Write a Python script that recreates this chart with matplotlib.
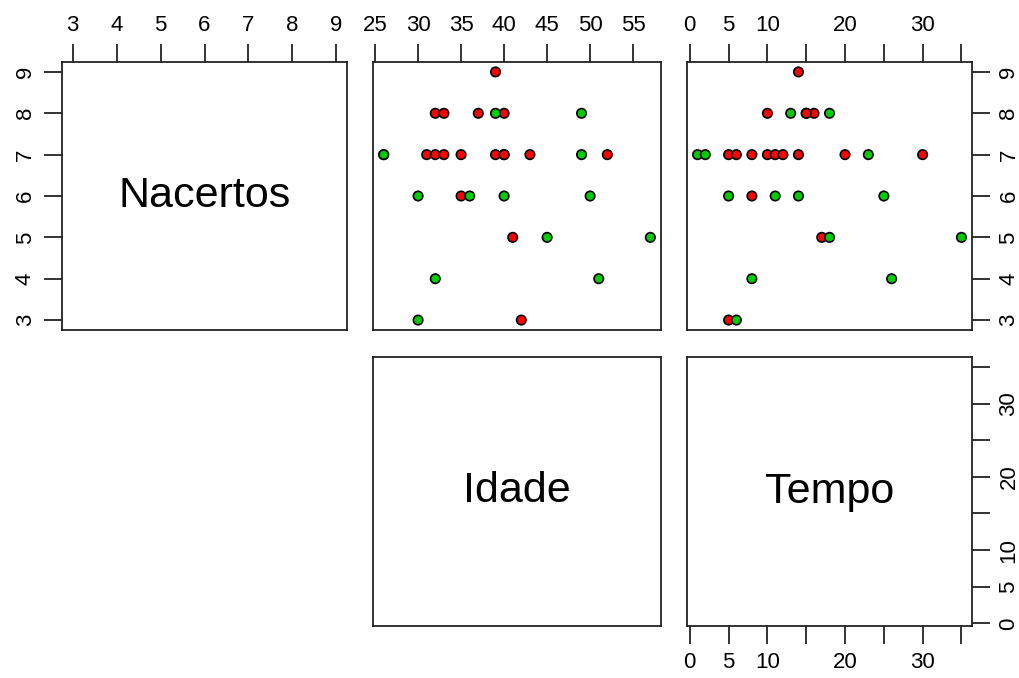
import matplotlib
matplotlib.use("Agg")
import matplotlib.pyplot as plt
from matplotlib import font_manager
import numpy as np

plt.rcParams['font.family'] = ['Liberation Sans', 'DejaVu Sans']
names = {f.name for f in font_manager.fontManager.ttflist}
TICK_FAMILY = ['Liberation Sans Narrow', 'Liberation Sans'] if 'Liberation Sans Narrow' in names else ['Liberation Sans']

# Data (one row per observation)
nacertos = [9,
            8, 8, 8, 8, 8, 8,
            7, 7, 7, 7, 7, 7, 7, 7, 7, 7, 7, 7,
            6, 6, 6, 6, 6,
            5, 5, 5,
            4, 4,
            3, 3]
idade = [39,
         32, 33, 37, 40, 39, 49,
         31, 32, 33, 35, 39, 40, 43, 52, 40, 26, 26, 49,
         35, 30, 36, 40, 50,
         41, 45, 57,
         32, 51,
         42, 30]
tempo = [14,
         10, 15, 16, 15, 13, 18,
         5, 6, 8, 10, 11, 12, 14, 20, 30, 1, 2, 23,
         8, 5, 11, 14, 25,
         17, 18, 35,
         8, 26,
         5, 6]
grupo = ['R',
         'R', 'R', 'R', 'R', 'G', 'G',
         'R', 'R', 'R', 'R', 'R', 'R', 'R', 'R', 'R', 'G', 'G', 'G',
         'R', 'G', 'G', 'G', 'G',
         'R', 'G', 'G',
         'G', 'G',
         'R', 'G']
var_names = ['Nacertos', 'Idade', 'Tempo']
nacertos_ticks = [3, 4, 5, 6, 7, 8, 9]
idade_ticks = [25, 30, 35, 40, 45, 50, 55]
tempo_ticks = [0, 5, 10, 15, 20, 25, 30, 35]
tempo_labels = ['0', '5', '10', '', '20', '', '30', '']
group_colors = {'R': '#FF0000', 'G': '#00CD00'}


def rlim(v):
    lo, hi = min(v), max(v)
    d = 0.04 * (hi - lo)
    return lo - d, hi + d


W, H = 1020, 678
fig = plt.figure(figsize=(W / 100, H / 100), dpi=100)


def add_ax(x0, y0, x1, y1):
    return fig.add_axes([x0 / W, 1 - y1 / H, (x1 - x0) / W, (y1 - y0) / H])


cols = [(62, 347), (373, 661), (687, 972)]
rows = [(62, 330), (357, 626)]
lims = [rlim(nacertos), rlim(idade), rlim(tempo)]
TFS = 16
DFS = 31
cols_c = [group_colors[g] for g in grupo]


def style(ax):
    for s in ax.spines.values():
        s.set_linewidth(1.3)
        s.set_color('#222222')
    ax.set_xticks([])
    ax.set_yticks([])


def fin(ax):
    ax.tick_params(length=13, width=1.3, color='#222222', labelsize=TFS, pad=6)
    for lab in ax.get_xticklabels() + ax.get_yticklabels():
        lab.set_family(TICK_FAMILY)


def pts(ax, x, y):
    ax.scatter(x, y, s=46, c=cols_c, edgecolors='black', linewidths=1.2, zorder=3)


# Row 1
ax1 = add_ax(cols[0][0], rows[0][0], cols[0][1], rows[0][1])
style(ax1)
ax1.set_xlim(lims[0]); ax1.set_ylim(lims[0])
ax1.xaxis.tick_top()
ax1.set_xticks(nacertos_ticks)
ax1.set_yticks(nacertos_ticks)
ax1.set_yticklabels([str(t) for t in nacertos_ticks], rotation=90, va='center')
fin(ax1)
ax1.text(0.5, 0.5, var_names[0], transform=ax1.transAxes, ha='center', va='center', fontsize=DFS)

ax2 = add_ax(cols[1][0], rows[0][0], cols[1][1], rows[0][1])
style(ax2)
ax2.set_xlim(lims[1]); ax2.set_ylim(lims[0])
ax2.xaxis.tick_top()
ax2.set_xticks(idade_ticks)
fin(ax2)
pts(ax2, idade, nacertos)

ax3 = add_ax(cols[2][0], rows[0][0], cols[2][1], rows[0][1])
style(ax3)
ax3.set_xlim(lims[2]); ax3.set_ylim(lims[0])
ax3.xaxis.tick_top()
ax3.set_xticks(tempo_ticks)
ax3.set_xticklabels(tempo_labels)
ax3.yaxis.tick_right()
ax3.set_yticks(nacertos_ticks)
ax3.set_yticklabels([str(t) for t in nacertos_ticks], rotation=90, va='center')
fin(ax3)
pts(ax3, tempo, nacertos)

# Row 2
ax5 = add_ax(cols[1][0], rows[1][0], cols[1][1], rows[1][1])
style(ax5)
ax5.text(0.5, 0.5, var_names[1], transform=ax5.transAxes, ha='center', va='center', fontsize=DFS)

ax6 = add_ax(cols[2][0], rows[1][0], cols[2][1], rows[1][1])
style(ax6)
ax6.set_xlim(lims[2]); ax6.set_ylim(lims[2])
ax6.set_xticks(tempo_ticks)
ax6.set_xticklabels(tempo_labels)
ax6.yaxis.tick_right()
ax6.set_yticks(tempo_ticks)
ax6.set_yticklabels(tempo_labels, rotation=90, va='center')
fin(ax6)
ax6.text(0.5, 0.5, var_names[2], transform=ax6.transAxes, ha='center', va='center', fontsize=DFS)

fig.savefig('out.png', dpi=100, facecolor='white')
